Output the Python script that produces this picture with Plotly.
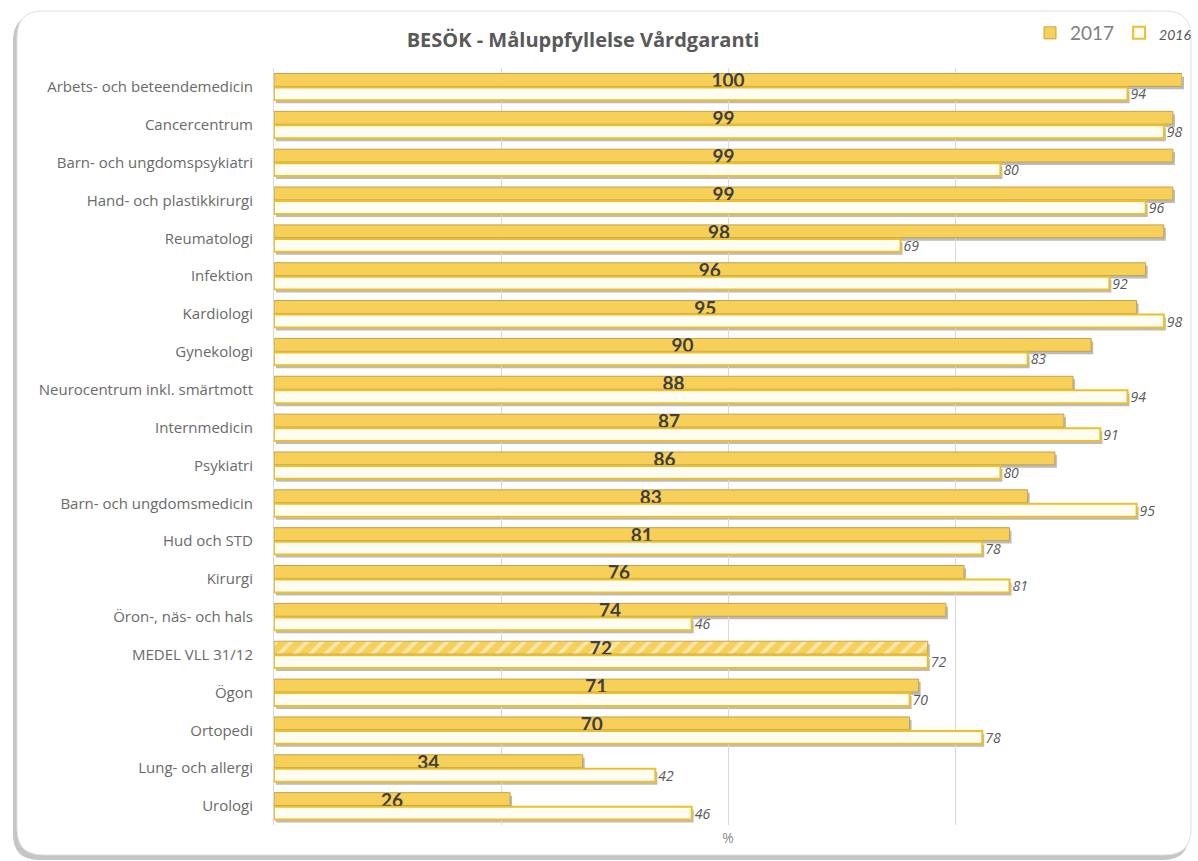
import plotly.graph_objects as go

# Visit goal fulfilment per clinic, 2017 vs 2016 (%)
categories = [
    "Arbets- och beteendemedicin", "Cancercentrum", "Barn- och ungdomspsykiatri",
    "Hand- och plastikkirurgi", "Reumatologi", "Infektion", "Kardiologi",
    "Gynekologi", "Neurocentrum inkl. smärtmott", "Internmedicin", "Psykiatri",
    "Barn- och ungdomsmedicin", "Hud och STD", "Kirurgi", "Öron-, näs- och hals",
    "MEDEL VLL 31/12", "Ögon", "Ortopedi", "Lung- och allergi", "Urologi",
]
values_2017 = [100, 99, 99, 99, 98, 96, 95, 90, 88, 87, 86, 83, 81, 76, 74, 72, 71, 70, 34, 26]
values_2016 = [94, 98, 80, 96, 69, 92, 98, 83, 94, 91, 80, 95, 78, 81, 46, 72, 70, 78, 42, 46]
average_label = "MEDEL VLL 31/12"

W, H = 1198, 861
L, T = 274, 68          # plot area origin (px)
PW, PH = 910, 760       # plot area size (px)
SDX, SDY = 2, 3         # drop-shadow offset (px)

YELLOW = "#F7D05A"
YELLOW_EDGE = "#C2A24C"
GOLD = "#EDC02A"
GREY_TEXT = "#595959"
LABEL_GREY = "#6a6a6a"
FONT = "'Open Sans', Lato, sans-serif"
NUM_FONT = "Lato, 'Open Sans', sans-serif"


def px_x(px):
    return (px - L) / PW


def px_y(py):
    return (T + PH - py) / PH


def rounded_rect(x0, y0, x1, y1, r):
    pts = [
        ("M", [(x0 + r, y0)]), ("L", [(x1 - r, y0)]), ("Q", [(x1, y0), (x1, y0 + r)]),
        ("L", [(x1, y1 - r)]), ("Q", [(x1, y1), (x1 - r, y1)]), ("L", [(x0 + r, y1)]),
        ("Q", [(x0, y1), (x0, y1 - r)]), ("L", [(x0, y0 + r)]), ("Q", [(x0, y0), (x0 + r, y0)]),
    ]
    out = []
    for cmd, coords in pts:
        out.append(cmd + " " + " ".join(f"{px_x(a):.5f},{px_y(b):.5f}" for a, b in coords))
    return " ".join(out) + " Z"


patterns = ["/" if c == average_label else "" for c in categories]

fig = go.Figure()

# soft shadows behind the bars (own axes, shifted a few pixels)
for vals in (values_2017, values_2016):
    fig.add_trace(go.Bar(
        y=categories, x=vals, orientation="h",
        marker=dict(color="rgba(105,105,105,0.45)", line=dict(width=0)),
        xaxis="x", yaxis="y", showlegend=False, hoverinfo="skip",
    ))

fig.add_trace(go.Bar(
    name="2017", y=categories, x=values_2017, orientation="h",
    marker=dict(
        color=YELLOW, line=dict(color=YELLOW_EDGE, width=1),
        pattern=dict(shape=patterns, fgcolor="white", bgcolor=YELLOW, size=11, solidity=0.35),
    ),
    text=[str(v) for v in values_2017], textposition="inside", insidetextanchor="middle",
    textangle=0, constraintext="none",
    textfont=dict(family=NUM_FONT, size=19, color="#3f3f3f", weight="bold"),
    xaxis="x2", yaxis="y2", cliponaxis=False,
))
fig.add_trace(go.Bar(
    name="<span style='font-size:14px;color:#555'><i>2016</i></span>", y=categories,
    x=values_2016, orientation="h",
    marker=dict(color="#FFFDF2", line=dict(color=GOLD, width=2)),
    text=[str(v) for v in values_2016], textposition="outside", textangle=0,
    constraintext="none",
    textfont=dict(family=FONT, size=14, color=GREY_TEXT, style="italic"),
    xaxis="x2", yaxis="y2", cliponaxis=False,
))

dx, dy = SDX / PW, SDY / PH
axis_common = dict(range=[0, 100], showticklabels=False, zeroline=False)
fig.update_layout(
    width=W, height=H,
    margin=dict(l=L, t=T, r=W - L - PW, b=H - T - PH, autoexpand=False),
    paper_bgcolor="white", plot_bgcolor="rgba(0,0,0,0)",
    barmode="group", bargap=0.26, bargroupgap=0.08,
    font=dict(family=FONT, color=GREY_TEXT),
    xaxis=dict(domain=[dx, 1], showgrid=False, **axis_common),
    yaxis=dict(domain=[0, 1 - dy], autorange="reversed", showticklabels=False,
               showgrid=False, anchor="x"),
    xaxis2=dict(domain=[0, 1 - dx], anchor="y2", showgrid=True, gridcolor="#d9d9d9",
                gridwidth=1, dtick=25, tick0=0,
                title=dict(text="%", font=dict(size=14, color="#8a8a8a"), standoff=8),
                **axis_common),
    yaxis2=dict(domain=[dy, 1], anchor="x2", autorange="reversed", showgrid=False,
                showline=True, linecolor="#d9d9d9", ticks="outside", ticklen=17,
                tickcolor="rgba(0,0,0,0)",
                tickfont=dict(family=FONT, size=15, color=LABEL_GREY)),
    title=dict(text="<b>BESÖK - Måluppfyllelse Vårdgaranti</b>", x=583 / W,
               xanchor="center", y=1 - 40 / H, yanchor="middle",
               font=dict(family=FONT, size=20, color=GREY_TEXT)),
    legend=dict(orientation="h", x=px_x(1197), xanchor="right", y=px_y(33), yanchor="middle",
                font=dict(family=NUM_FONT, size=19, color="#7f7f7f"),
                bgcolor="rgba(0,0,0,0)", itemwidth=30, traceorder="normal"),
    shapes=[
        dict(type="path", xref="paper", yref="paper", layer="below",
             path=rounded_rect(13, 15, 1189, 860, 26),
             fillcolor="rgba(150,150,150,0.55)", line=dict(width=0)),
        dict(type="path", xref="paper", yref="paper", layer="below",
             path=rounded_rect(17, 11, 1191, 855, 26),
             fillcolor="white", line=dict(color="#dedede", width=1)),
    ],
)

fig.write_html("out.html")
